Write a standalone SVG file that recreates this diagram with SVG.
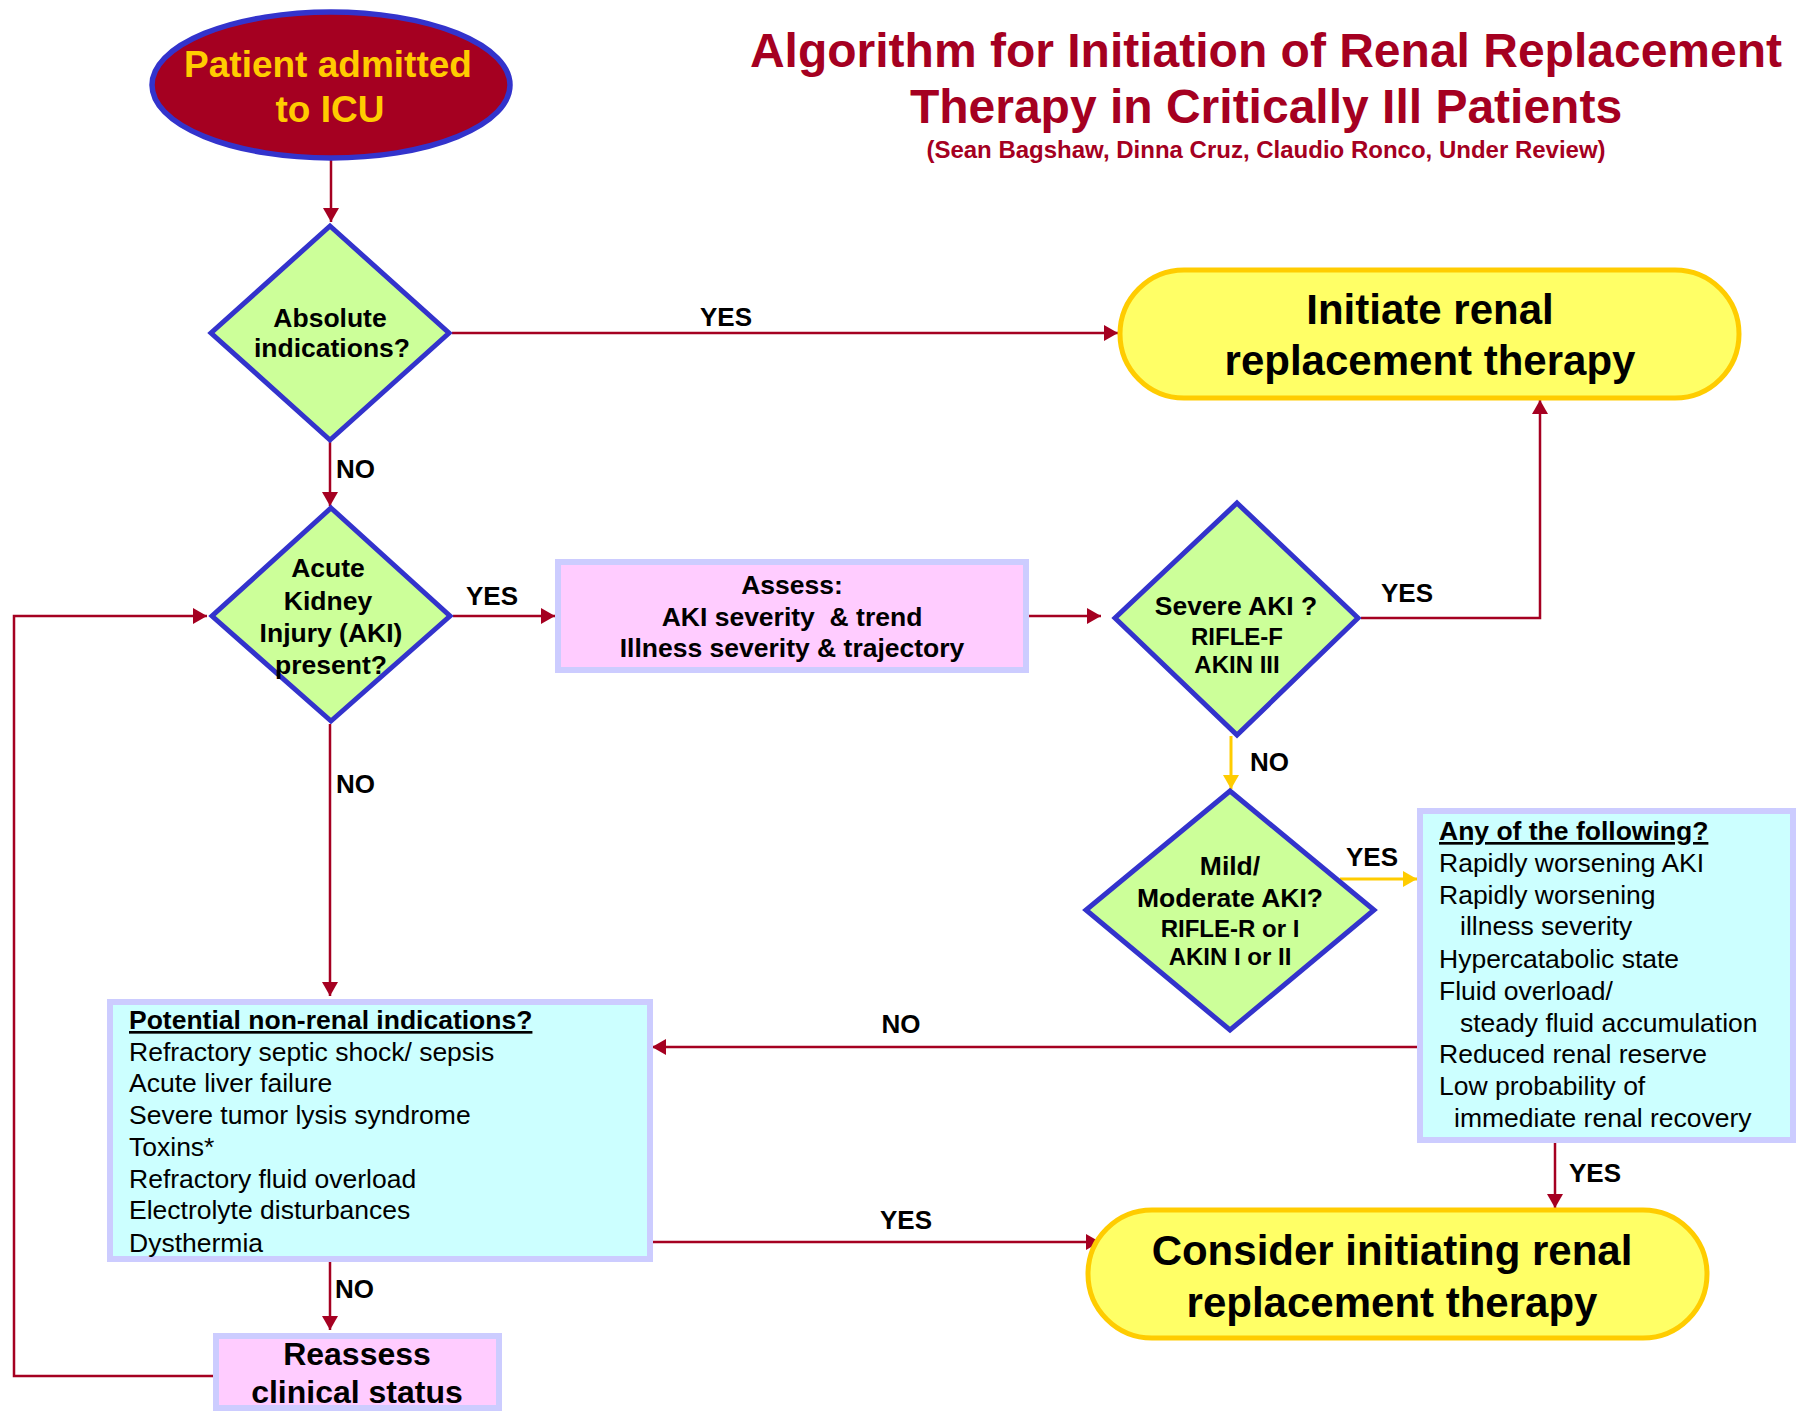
<svg xmlns="http://www.w3.org/2000/svg" width="1796" height="1411" viewBox="0 0 1796 1411">
  <style>
    text { font-family: "Liberation Sans", Arial, sans-serif; }
    .title { fill: #a50021; font-weight: bold; text-anchor: middle; }
    .dia { fill: #ccff99; stroke: #3333cc; stroke-width: 5; stroke-linejoin: miter; }
    .box { stroke: #ccccff; stroke-width: 6; }
    .pink { fill: #ffccff; }
    .cyan { fill: #ccffff; }
    .term { fill: #ffff66; stroke: #ffcc00; stroke-width: 5; }
    .b { font-weight: bold; fill: #000; }
    .c { text-anchor: middle; }
    .q { font-size: 26.5px; }
    .q2 { font-size: 24px; }
    .list { font-size: 26.5px; fill: #000; }
    .lbl { font-size: 26px; font-weight: bold; fill: #000; }
    .red { fill: none; stroke: #a50021; stroke-width: 2.5; marker-end: url(#ah); }
    .yel { fill: none; stroke: #ffcc00; stroke-width: 3; marker-end: url(#ahy); }
  </style>
  <defs>
    <marker id="ah" viewBox="0 0 14 16" refX="14" refY="8" markerWidth="14" markerHeight="16" markerUnits="userSpaceOnUse" orient="auto">
      <path d="M0,0 L14,8 L0,16 z" fill="#a50021"/>
    </marker>
    <marker id="ahy" viewBox="0 0 14 16" refX="14" refY="8" markerWidth="14" markerHeight="16" markerUnits="userSpaceOnUse" orient="auto">
      <path d="M0,0 L14,8 L0,16 z" fill="#ffcc00"/>
    </marker>
  </defs>

  <rect width="1796" height="1411" fill="#ffffff"/>

  <!-- Title block -->
  <g id="title">
    <text class="title" x="1266" y="67" font-size="48">Algorithm for Initiation of Renal Replacement</text>
    <text class="title" x="1266" y="123" font-size="48">Therapy in Critically Ill Patients</text>
    <text class="title" x="1266" y="158" font-size="24">(Sean Bagshaw, Dinna Cruz, Claudio Ronco, Under Review)</text>
  </g>

  <!-- Connectors -->
  <g id="connectors">
    <path class="red" d="M331,160 V222"/>
    <path class="red" d="M452,333 H1118"/>
    <path class="red" d="M330,442 V506"/>
    <path class="red" d="M453,616 H555"/>
    <path class="red" d="M1029,616 H1101"/>
    <path class="red" d="M1361,618 H1540 V400"/>
    <path class="yel" d="M1231,736 V789"/>
    <path class="yel" d="M1340,879 H1417"/>
    <path class="red" d="M1417,1047 H652"/>
    <path class="red" d="M1555,1143 V1208"/>
    <path class="red" d="M653,1242 H1100"/>
    <path class="red" d="M330,724 V996"/>
    <path class="red" d="M330,1262 V1330"/>
    <path class="red" d="M213,1376 H14 V616 H207"/>

    <text class="lbl c" x="726" y="326">YES</text>
    <text class="lbl" x="336" y="478">NO</text>
    <text class="lbl c" x="492" y="605">YES</text>
    <text class="lbl" x="1381" y="602">YES</text>
    <text class="lbl" x="1250" y="771">NO</text>
    <text class="lbl" x="1346" y="866">YES</text>
    <text class="lbl c" x="901" y="1033">NO</text>
    <text class="lbl" x="336" y="793">NO</text>
    <text class="lbl c" x="906" y="1229">YES</text>
    <text class="lbl" x="335" y="1298">NO</text>
    <text class="lbl" x="1569" y="1182">YES</text>
  </g>

  <!-- Start: patient admitted -->
  <g id="start">
    <ellipse cx="331" cy="85" rx="179" ry="73" fill="#a50021" stroke="#3333cc" stroke-width="5.5"/>
    <text class="c" x="328" y="77" font-size="37" font-weight="bold" fill="#ffcc00">Patient admitted</text>
    <text class="c" x="330" y="122" font-size="37" font-weight="bold" fill="#ffcc00">to ICU</text>
  </g>

  <!-- Decision: absolute indications -->
  <g id="absolute">
    <polygon class="dia" points="330,226 449,333 330,440 211,333"/>
    <text class="b c q" x="330" y="327">Absolute</text>
    <text class="b c q" x="332" y="357">indications?</text>
  </g>

  <!-- Terminal: initiate RRT -->
  <g id="initiate">
    <rect class="term" x="1120" y="270" width="619" height="128" rx="64"/>
    <text class="b c" x="1430" y="324" font-size="42">Initiate renal</text>
    <text class="b c" x="1430" y="375" font-size="42">replacement therapy</text>
  </g>

  <!-- Decision: AKI present -->
  <g id="aki">
    <polygon class="dia" points="331,508 450,616 331,721 212,616"/>
    <text class="b c q" x="328" y="577">Acute</text>
    <text class="b c q" x="328" y="610">Kidney</text>
    <text class="b c q" x="331" y="642">Injury (AKI)</text>
    <text class="b c q" x="331" y="674">present?</text>
  </g>

  <!-- Process: assess -->
  <g id="assess">
    <rect class="box pink" x="558" y="562" width="468" height="108"/>
    <text class="b c q" x="792" y="594">Assess:</text>
    <text class="b c q" x="792" y="626" xml:space="preserve">AKI severity  &amp; trend</text>
    <text class="b c q" x="792" y="657">Illness severity &amp; trajectory</text>
  </g>

  <!-- Decision: severe AKI -->
  <g id="severe">
    <polygon class="dia" points="1237,503 1358,618 1237,735 1115,618"/>
    <text class="b c q" x="1236" y="615">Severe AKI ?</text>
    <text class="b c q2" x="1237" y="645">RIFLE-F</text>
    <text class="b c q2" x="1237" y="673">AKIN III</text>
  </g>

  <!-- Decision: mild / moderate AKI -->
  <g id="mild">
    <polygon class="dia" points="1230,791 1374,910 1230,1030 1086,910"/>
    <text class="b c q" x="1230" y="875">Mild/</text>
    <text class="b c q" x="1230" y="907">Moderate AKI?</text>
    <text class="b c q2" x="1230" y="937">RIFLE-R or I</text>
    <text class="b c q2" x="1230" y="965">AKIN I or II</text>
  </g>

  <!-- Criteria list -->
  <g id="any-following">
    <rect class="box cyan" x="1420" y="811" width="373" height="329"/>
    <text class="list" x="1439" y="840" font-weight="bold" text-decoration="underline">Any of the following?</text>
    <text class="list" x="1439" y="872">Rapidly worsening AKI</text>
    <text class="list" x="1439" y="904">Rapidly worsening</text>
    <text class="list" x="1460" y="935">illness severity</text>
    <text class="list" x="1439" y="968">Hypercatabolic state</text>
    <text class="list" x="1439" y="1000">Fluid overload/</text>
    <text class="list" x="1460" y="1032">steady fluid accumulation</text>
    <text class="list" x="1439" y="1063">Reduced renal reserve</text>
    <text class="list" x="1439" y="1095">Low probability of</text>
    <text class="list" x="1454" y="1127">immediate renal recovery</text>
  </g>

  <!-- Non-renal indications -->
  <g id="non-renal">
    <rect class="box cyan" x="110" y="1002" width="540" height="257"/>
    <text class="list" x="129" y="1029" font-weight="bold" text-decoration="underline">Potential non-renal indications?</text>
    <text class="list" x="129" y="1061">Refractory septic shock/ sepsis</text>
    <text class="list" x="129" y="1092">Acute liver failure</text>
    <text class="list" x="129" y="1124">Severe tumor lysis syndrome</text>
    <text class="list" x="129" y="1156">Toxins*</text>
    <text class="list" x="129" y="1188">Refractory fluid overload</text>
    <text class="list" x="129" y="1219">Electrolyte disturbances</text>
    <text class="list" x="129" y="1252">Dysthermia</text>
  </g>

  <!-- Terminal: consider RRT -->
  <g id="consider">
    <rect class="term" x="1088" y="1210" width="619" height="128" rx="64"/>
    <text class="b c" x="1392" y="1265" font-size="42">Consider initiating renal</text>
    <text class="b c" x="1392" y="1317" font-size="42">replacement therapy</text>
  </g>

  <!-- Process: reassess -->
  <g id="reassess">
    <rect class="box pink" x="216" y="1336" width="283" height="72"/>
    <text class="b c" x="357" y="1365" font-size="32">Reassess</text>
    <text class="b c" x="357" y="1403" font-size="32">clinical status</text>
  </g>
</svg>
